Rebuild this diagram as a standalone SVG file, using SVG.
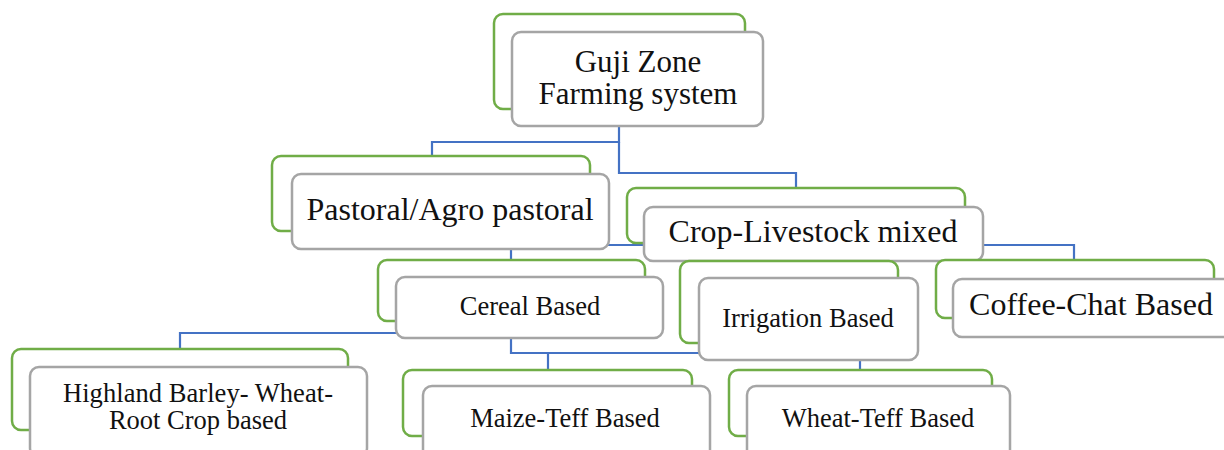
<svg xmlns="http://www.w3.org/2000/svg" width="1224" height="450" viewBox="0 0 1224 450">
<style>
.bg{fill:#ffffff;stroke:#70AD47;stroke-width:2.5}
.fg{fill:#ffffff;stroke:#A5A5A5;stroke-width:2.5}
.con{fill:none;stroke:#4472C4;stroke-width:2.2}
.t{fill:#111;text-anchor:middle}
.l{font-size:32px}
.s{font-size:26.5px}
</style>
<rect width="1224" height="450" fill="#ffffff"/>
<g id="connectors">
<path class="con" d="M619,126 V142 H432 V156"/>
<path class="con" d="M619,142 V173 H796 V188"/>
<path class="con" d="M511,260 V245 H1074 V260"/>
<path class="con" d="M180,349 V333 H530"/>
<path class="con" d="M511,300 V353 H860 V369"/>
<path class="con" d="M548,353 V370"/>
</g>
<g font-family="Liberation Serif, Times New Roman, DejaVu Serif, serif">
<g id="root">
<rect class="bg" x="494" y="14" width="251" height="95" rx="9"/>
<rect class="fg" x="512" y="32" width="251" height="94" rx="9"/>
<text class="t" font-size="31" x="638" y="72">Guji Zone</text>
<text class="t" font-size="31" x="638" y="104">Farming system</text>
</g>
<g id="pastoral">
<rect class="bg" x="272" y="156" width="318" height="75" rx="9"/>
<rect class="fg" x="292" y="174" width="317" height="75" rx="9"/>
<text class="t l" x="450" y="220">Pastoral/Agro pastoral</text>
</g>
<g id="crop-livestock">
<rect class="bg" x="627" y="188" width="338" height="55" rx="9"/>
<rect class="fg" x="644" y="207" width="339" height="54" rx="9"/>
<text class="t l" x="813" y="242">Crop-Livestock mixed</text>
</g>
<g id="cereal">
<rect class="bg" x="378" y="260" width="267" height="61" rx="9"/>
<rect class="fg" x="396" y="277" width="267" height="61" rx="9"/>
<text class="t s" x="530" y="315">Cereal Based</text>
</g>
<g id="irrigation">
<rect class="bg" x="680" y="261" width="218" height="82" rx="9"/>
<rect class="fg" x="699" y="278" width="219" height="82" rx="9"/>
<text class="t s" x="808" y="327">Irrigation Based</text>
</g>
<g id="coffee">
<rect class="bg" x="936" y="260" width="278" height="58" rx="9"/>
<rect class="fg" x="953" y="279" width="280" height="58" rx="9"/>
<text class="t l" x="1091" y="315">Coffee-Chat Based</text>
</g>
<g id="highland">
<rect class="bg" x="12" y="349" width="336" height="81" rx="9"/>
<rect class="fg" x="30" y="367" width="337" height="90" rx="9"/>
<text class="t s" x="198" y="402" textLength="270" lengthAdjust="spacing">Highland Barley- Wheat-</text>
<text class="t s" x="198" y="429">Root Crop based</text>
</g>
<g id="maize">
<rect class="bg" x="403" y="370" width="289" height="66" rx="9"/>
<rect class="fg" x="423" y="386" width="287" height="80" rx="9"/>
<text class="t s" x="565" y="427">Maize-Teff Based</text>
</g>
<g id="wheat">
<rect class="bg" x="729" y="370" width="263" height="66" rx="9"/>
<rect class="fg" x="747" y="386" width="263" height="80" rx="9"/>
<text class="t s" x="878" y="427">Wheat-Teff Based</text>
</g>
</g>
</svg>
